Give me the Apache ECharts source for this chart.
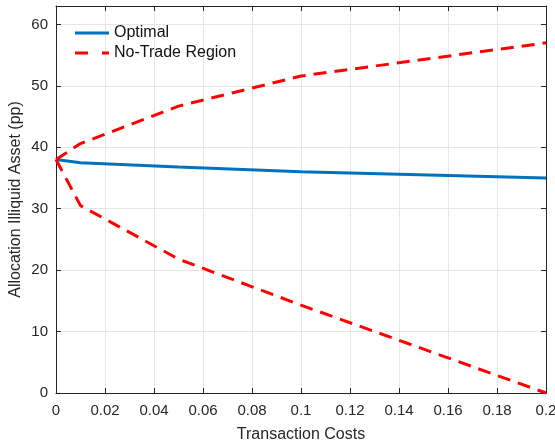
<!DOCTYPE html>
<html>
<head>
<meta charset="utf-8">
<script src="https://cdn.jsdelivr.net/npm/echarts@6/dist/echarts.min.js"></script>
<style>
  html, body { margin: 0; padding: 0; background: #fff; }
  #graph1 { width: 555px; height: 444px; }
</style>
</head>
<body>
<div id="graph1"></div>
<script>
// transaction costs (x) and allocations in pp
var costs = [0, 0.01, 0.05, 0.1, 0.2];
var optimal = [38, 37.5, 36.8, 36.0, 35.0];
var upperBound = [38, 40.6, 46.7, 51.6, 57.0];
var lowerBound = [38, 30.5, 21.8, 14.3, 0];

function pairs(xs, ys) {
    var out = [];
    for (var i = 0; i < xs.length; i++) {
        out.push([xs[i], ys[i]]);
    }
    return out;
}

var myChart = echarts.init(document.getElementById('graph1'));
var font = 'Liberation Sans, Arial, sans-serif';

var axisCommon = {
    axisLine: { show: true, onZero: false, lineStyle: { color: '#262626', width: 1 } },
    axisTick: { show: true, inside: true, length: 5, lineStyle: { color: '#262626' } }
};

var option = {
    animation: false,
    grid: { left: 56, right: 9, top: 6, bottom: 51, containLabel: false, outerBoundsMode: 'none' },
    legend: {
        left: 70,
        top: 19,
        orient: 'vertical',
        itemWidth: 34,
        itemHeight: 3,
        itemGap: 2,
        itemTextGap: 5,
        textStyle: { fontFamily: font, fontSize: 16, color: '#111', lineHeight: 18 },
        data: [
            { name: 'Optimal', icon: 'path://M0,0H34V3H0Z', itemStyle: { color: '#0072bd' } },
            { name: 'No-Trade Region', icon: 'path://M0,0H13V3H0ZM27,0H34V3H27Z', itemStyle: { color: '#ff0000' } }
        ]
    },
    xAxis: [
        Object.assign({
            type: 'value',
            min: 0,
            max: 0.2,
            interval: 0.02,
            name: 'Transaction Costs',
            nameLocation: 'middle',
            nameGap: 34,
            nameMoveOverlap: false,
            nameTextStyle: { fontFamily: font, fontSize: 16, color: '#262626' },
            axisLabel: {
                margin: 10,
                fontFamily: font,
                fontSize: 15,
                color: '#262626',
                formatter: function (v) { return String(+v.toFixed(2)); }
            },
            splitLine: { show: true, lineStyle: { color: '#e6e6e6' } }
        }, axisCommon),
        Object.assign({
            type: 'value',
            position: 'top',
            min: 0,
            max: 0.2,
            interval: 0.02,
            axisLabel: { show: false },
            splitLine: { show: false }
        }, axisCommon)
    ],
    yAxis: [
        Object.assign({
            type: 'value',
            min: 0,
            max: 63,
            interval: 10,
            name: 'Allocation Illiquid Asset (pp)',
            nameLocation: 'middle',
            nameGap: 32,
            nameMoveOverlap: false,
            nameTextStyle: { fontFamily: font, fontSize: 16, color: '#262626' },
            axisLabel: {
                margin: 8,
                fontFamily: font,
                fontSize: 15,
                color: '#262626',
                showMaxLabel: false
            },
            splitLine: { show: true, lineStyle: { color: '#e6e6e6' } }
        }, axisCommon),
        Object.assign({
            type: 'value',
            position: 'right',
            min: 0,
            max: 63,
            interval: 10,
            axisLabel: { show: false },
            splitLine: { show: false }
        }, axisCommon)
    ],
    series: [
        {
            name: 'Optimal',
            type: 'line',
            symbol: 'none',
            color: '#0072bd',
            lineStyle: { width: 3, color: '#0072bd' },
            data: pairs(costs, optimal)
        },
        {
            name: 'No-Trade Region',
            type: 'line',
            symbol: 'none',
            color: '#ff0000',
            lineStyle: { width: 3, color: '#ff0000', type: [13, 8] },
            data: pairs(costs, upperBound)
        },
        {
            name: 'No-Trade Region',
            type: 'line',
            symbol: 'none',
            color: '#ff0000',
            lineStyle: { width: 3, color: '#ff0000', type: [13, 8] },
            data: pairs(costs, lowerBound)
        }
    ]
};

myChart.setOption(option, true);
</script>
</body>
</html>
